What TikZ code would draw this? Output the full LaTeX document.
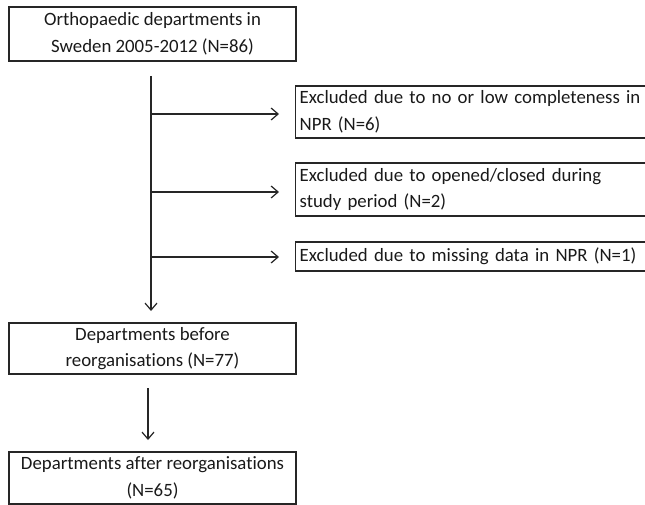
\documentclass[tikz,border=0pt]{standalone}
\usepackage{fontspec}
\setmainfont[RawFeature={-liga;-calt;-dlig}]{Carlito}
\usetikzlibrary{arrows.meta,calc}
\newcommand{\reorg}{reorganisat\kern0pt ions}
\begin{document}
\begin{tikzpicture}[x=1pt,y=1pt,
  boxc/.style={draw=black!85,line width=1.3pt,minimum width=287pt,inner sep=2pt,align=center,font=\fontsize{18.8}{26.5}\selectfont,text=black!90},
  boxl/.style={draw=black!85,line width=1.3pt,minimum width=360pt,inner sep=3pt,align=left,anchor=west,text width=352pt,font=\fontsize{18.8}{26.5}\selectfont,text=black!90},
  conn/.style={draw=black!85,line width=1.2pt,-{Straight Barb[length=7pt,width=12pt,line width=1.2pt]}}]
\useasboundingbox (0,0) rectangle (645,-505);
\node[boxc,minimum height=54pt] (b1) at (152.5,-34) {Orthopaedic departments in\\Sweden 2005-2012 (N=86)};
\node[boxl,minimum height=52pt] (e1) at (295,-112) {Excluded due to no or low completeness in\\NPR (N=6)};
\node[boxl,minimum height=53pt] (e2) at (295,-189.5) {Excluded due to opened/closed during\\study period (N=2)};
\node[boxl,minimum height=29pt] (e3) at (295,-256.5) {Excluded due to missing data in NPR (N=1)};
\node[boxc,minimum height=51pt] (b2) at (152.5,-348.5) {Departments before\\\reorg{} (N=77)};
\node[boxc,minimum height=52pt] (b3) at (152.5,-478) {Departments after \reorg\\(N=65)};
\coordinate (top) at (151,-76);
\coordinate (bot) at (151,-311);
\coordinate (j1) at (151,-114);
\coordinate (j2) at (151,-192);
\coordinate (j3) at (151,-257);
\draw[conn] (top) -- (bot);
\draw[conn,shorten >=16pt] (j1) -- (j1 -| e1.west);
\draw[conn,shorten >=16pt] (j2) -- (j2 -| e2.west);
\draw[conn,shorten >=16pt] (j3) -- (j3 -| e3.west);
\coordinate (a2s) at (148,-388);
\coordinate (a2e) at (148,-440);
\draw[conn] (a2s) -- (a2e);
\end{tikzpicture}
\end{document}
